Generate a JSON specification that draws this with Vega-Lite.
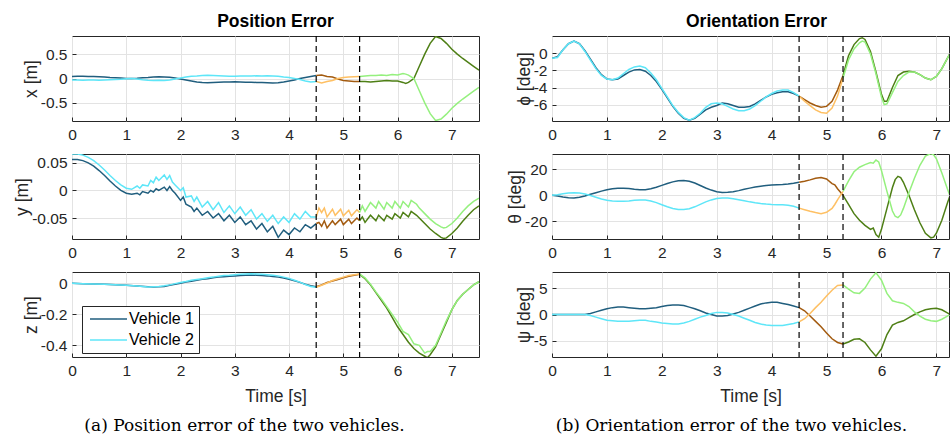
{
"$schema": "https://vega.github.io/schema/vega-lite/v6.json",
"padding": {"left": 13, "top": 12, "right": 0, "bottom": 0},
"background": "white",
"datasets": {
"vl": [{"t": 4.5}, {"t": 5.3}],
"px": [
{"t":0,"a":0.04,"b":-0.03},{"t":0.1,"a":0.045,"b":-0.03},{"t":0.2,"a":0.045,"b":-0.035},{"t":0.3,"a":0.04,"b":-0.03},{"t":0.4,"a":0.04,"b":-0.03},{"t":0.5,"a":0.035,"b":-0.035},{"t":0.6,"a":0.03,"b":-0.03},{"t":0.7,"a":0.02,"b":-0.025},{"t":0.8,"a":0.015,"b":-0.02},{"t":0.9,"a":0.01,"b":-0.015},{"t":1.0,"a":0.0,"b":-0.005},{"t":1.1,"a":0.0,"b":0.0},{"t":1.2,"a":0.005,"b":-0.01},{"t":1.3,"a":0.015,"b":-0.025},{"t":1.4,"a":0.02,"b":-0.035},{"t":1.5,"a":0.03,"b":-0.04},{"t":1.6,"a":0.035,"b":-0.035},{"t":1.7,"a":0.03,"b":-0.04},{"t":1.8,"a":0.025,"b":-0.03},{"t":1.9,"a":0.01,"b":-0.01},{"t":2.0,"a":-0.01,"b":0.01},{"t":2.1,"a":-0.03,"b":0.03},{"t":2.2,"a":-0.05,"b":0.045},{"t":2.3,"a":-0.07,"b":0.05},{"t":2.4,"a":-0.08,"b":0.06},{"t":2.5,"a":-0.085,"b":0.065},{"t":2.6,"a":-0.08,"b":0.06},{"t":2.7,"a":-0.075,"b":0.055},{"t":2.8,"a":-0.07,"b":0.05},{"t":2.9,"a":-0.07,"b":0.045},{"t":3.0,"a":-0.065,"b":0.045},{"t":3.1,"a":-0.07,"b":0.05},{"t":3.2,"a":-0.075,"b":0.05},{"t":3.3,"a":-0.075,"b":0.05},{"t":3.4,"a":-0.08,"b":0.055},{"t":3.5,"a":-0.08,"b":0.05},{"t":3.6,"a":-0.085,"b":0.055},{"t":3.7,"a":-0.09,"b":0.05},{"t":3.8,"a":-0.085,"b":0.045},{"t":3.9,"a":-0.07,"b":0.03},{"t":4.0,"a":-0.05,"b":0.02},{"t":4.1,"a":-0.03,"b":0.0},{"t":4.2,"a":0.0,"b":-0.02},{"t":4.3,"a":0.02,"b":-0.05},{"t":4.4,"a":0.04,"b":-0.07},
{"t":4.5,"a":0.06,"b":-0.06,"c":0.06,"d":-0.06},
{"t":4.6,"c":0.07,"d":-0.09},{"t":4.7,"c":0.04,"d":-0.06},{"t":4.8,"c":0.03,"d":-0.04},{"t":4.9,"c":-0.01,"d":0.0},{"t":5.0,"c":-0.04,"d":0.02},{"t":5.1,"c":-0.05,"d":0.03},{"t":5.2,"c":-0.06,"d":0.035},
{"t":5.3,"c":-0.06,"d":0.04,"e":-0.06,"f":0.04},
{"t":5.4,"e":-0.06,"f":0.05},{"t":5.5,"e":-0.07,"f":0.06},{"t":5.6,"e":-0.06,"f":0.06},{"t":5.7,"e":-0.05,"f":0.07},{"t":5.8,"e":-0.04,"f":0.06},{"t":5.9,"e":-0.05,"f":0.08},{"t":6.0,"e":-0.05,"f":0.07},{"t":6.1,"e":-0.08,"f":0.1},{"t":6.15,"e":-0.1,"f":0.09},{"t":6.2,"e":-0.08,"f":0.07},{"t":6.3,"e":0.0,"f":0.0},{"t":6.4,"e":0.25,"f":-0.25},{"t":6.5,"e":0.5,"f":-0.5},{"t":6.6,"e":0.72,"f":-0.72},{"t":6.7,"e":0.86,"f":-0.86},{"t":6.8,"e":0.82,"f":-0.83},{"t":6.9,"e":0.72,"f":-0.73},{"t":7.0,"e":0.6,"f":-0.61},{"t":7.1,"e":0.5,"f":-0.51},{"t":7.2,"e":0.41,"f":-0.42},{"t":7.3,"e":0.33,"f":-0.34},{"t":7.4,"e":0.25,"f":-0.26},{"t":7.5,"e":0.17,"f":-0.18}
],
"py": [
{"t":0,"a":0.056,"b":0.066},{"t":0.1,"a":0.056,"b":0.066},{"t":0.2,"a":0.054,"b":0.064},{"t":0.3,"a":0.05,"b":0.06},{"t":0.4,"a":0.044,"b":0.054},{"t":0.5,"a":0.036,"b":0.046},{"t":0.6,"a":0.027,"b":0.037},{"t":0.7,"a":0.017,"b":0.027},{"t":0.8,"a":0.008,"b":0.018},{"t":0.9,"a":0.0,"b":0.01},{"t":1.0,"a":-0.005,"b":0.004},{"t":1.1,"a":-0.007,"b":0.002},{"t":1.2,"a":-0.005,"b":0.008},{"t":1.25,"a":-0.008,"b":0.004},{"t":1.3,"a":-0.002,"b":0.01},{"t":1.4,"a":-0.005,"b":0.008},{"t":1.45,"a":0.0,"b":0.018},{"t":1.5,"a":-0.003,"b":0.014},{"t":1.55,"a":0.003,"b":0.024},{"t":1.6,"a":0.0,"b":0.018},{"t":1.7,"a":0.006,"b":0.028},{"t":1.75,"a":0.0,"b":0.02},{"t":1.8,"a":0.007,"b":0.027},{"t":1.85,"a":0.0,"b":0.015},{"t":1.9,"a":-0.005,"b":0.01},{"t":2.0,"a":-0.018,"b":0.0},{"t":2.05,"a":-0.012,"b":0.005},{"t":2.1,"a":-0.025,"b":-0.012},{"t":2.2,"a":-0.03,"b":-0.01},{"t":2.25,"a":-0.038,"b":-0.02},{"t":2.3,"a":-0.032,"b":-0.012},{"t":2.4,"a":-0.045,"b":-0.03},{"t":2.5,"a":-0.038,"b":-0.02},{"t":2.6,"a":-0.05,"b":-0.035},{"t":2.7,"a":-0.042,"b":-0.022},{"t":2.8,"a":-0.055,"b":-0.04},{"t":2.9,"a":-0.045,"b":-0.028},{"t":3.0,"a":-0.058,"b":-0.042},{"t":3.1,"a":-0.048,"b":-0.03},{"t":3.2,"a":-0.062,"b":-0.045},{"t":3.3,"a":-0.055,"b":-0.035},{"t":3.4,"a":-0.07,"b":-0.052},{"t":3.5,"a":-0.06,"b":-0.042},{"t":3.6,"a":-0.075,"b":-0.056},{"t":3.7,"a":-0.065,"b":-0.045},{"t":3.8,"a":-0.085,"b":-0.06},{"t":3.9,"a":-0.072,"b":-0.048},{"t":4.0,"a":-0.08,"b":-0.058},{"t":4.1,"a":-0.068,"b":-0.042},{"t":4.2,"a":-0.075,"b":-0.052},{"t":4.3,"a":-0.062,"b":-0.038},{"t":4.4,"a":-0.068,"b":-0.048},
{"t":4.5,"a":-0.06,"b":-0.048,"c":-0.06,"d":-0.048},
{"t":4.55,"c":-0.058,"d":-0.032},{"t":4.6,"c":-0.065,"d":-0.04},{"t":4.65,"c":-0.055,"d":-0.032},{"t":4.7,"c":-0.068,"d":-0.048},{"t":4.8,"c":-0.055,"d":-0.034},{"t":4.85,"c":-0.062,"d":-0.045},{"t":4.95,"c":-0.052,"d":-0.034},{"t":5.0,"c":-0.062,"d":-0.046},{"t":5.1,"c":-0.052,"d":-0.036},{"t":5.15,"c":-0.06,"d":-0.046},{"t":5.25,"c":-0.05,"d":-0.035},
{"t":5.3,"c":-0.055,"d":-0.04,"e":-0.055,"f":-0.04},
{"t":5.35,"e":-0.048,"f":-0.028},{"t":5.4,"e":-0.058,"f":-0.038},{"t":5.5,"e":-0.045,"f":-0.022},{"t":5.6,"e":-0.055,"f":-0.032},{"t":5.65,"e":-0.045,"f":-0.02},{"t":5.75,"e":-0.055,"f":-0.034},{"t":5.8,"e":-0.045,"f":-0.022},{"t":5.9,"e":-0.052,"f":-0.032},{"t":5.95,"e":-0.042,"f":-0.02},{"t":6.05,"e":-0.05,"f":-0.032},{"t":6.1,"e":-0.04,"f":-0.02},{"t":6.2,"e":-0.048,"f":-0.03},{"t":6.25,"e":-0.038,"f":-0.018},{"t":6.35,"e":-0.045,"f":-0.025},{"t":6.4,"e":-0.05,"f":-0.032},{"t":6.5,"e":-0.06,"f":-0.042},{"t":6.6,"e":-0.07,"f":-0.052},{"t":6.7,"e":-0.078,"f":-0.06},{"t":6.8,"e":-0.085,"f":-0.066},{"t":6.85,"e":-0.087,"f":-0.068},{"t":6.9,"e":-0.086,"f":-0.067},{"t":7.0,"e":-0.078,"f":-0.06},{"t":7.1,"e":-0.068,"f":-0.05},{"t":7.2,"e":-0.056,"f":-0.038},{"t":7.3,"e":-0.045,"f":-0.028},{"t":7.4,"e":-0.035,"f":-0.02},{"t":7.5,"e":-0.028,"f":-0.014}
],
"pz": [
{"t":0,"a":0.0,"b":0.0},{"t":0.2,"a":-0.002,"b":-0.002},{"t":0.4,"a":-0.004,"b":-0.004},{"t":0.6,"a":-0.006,"b":-0.006},{"t":0.8,"a":-0.009,"b":-0.009},{"t":1.0,"a":-0.012,"b":-0.012},{"t":1.2,"a":-0.017,"b":-0.017},{"t":1.4,"a":-0.022,"b":-0.024},{"t":1.5,"a":-0.024,"b":-0.022},{"t":1.6,"a":-0.022,"b":-0.02},{"t":1.7,"a":-0.02,"b":-0.016},{"t":1.8,"a":-0.012,"b":-0.01},{"t":1.9,"a":-0.006,"b":-0.002},{"t":2.0,"a":0.0,"b":0.005},{"t":2.1,"a":0.008,"b":0.012},{"t":2.2,"a":0.014,"b":0.02},{"t":2.3,"a":0.02,"b":0.025},{"t":2.4,"a":0.026,"b":0.03},{"t":2.5,"a":0.03,"b":0.036},{"t":2.6,"a":0.036,"b":0.04},{"t":2.7,"a":0.04,"b":0.046},{"t":2.8,"a":0.043,"b":0.05},{"t":2.9,"a":0.046,"b":0.052},{"t":3.0,"a":0.048,"b":0.055},{"t":3.1,"a":0.05,"b":0.058},{"t":3.2,"a":0.052,"b":0.06},{"t":3.3,"a":0.054,"b":0.062},{"t":3.4,"a":0.052,"b":0.06},{"t":3.5,"a":0.05,"b":0.058},{"t":3.6,"a":0.048,"b":0.056},{"t":3.7,"a":0.044,"b":0.052},{"t":3.8,"a":0.04,"b":0.048},{"t":3.9,"a":0.034,"b":0.04},{"t":4.0,"a":0.026,"b":0.032},{"t":4.1,"a":0.016,"b":0.02},{"t":4.2,"a":0.006,"b":0.008},{"t":4.3,"a":-0.006,"b":-0.008},{"t":4.4,"a":-0.016,"b":-0.02},
{"t":4.5,"a":-0.022,"b":-0.025,"c":-0.022,"d":-0.025},
{"t":4.6,"c":-0.01,"d":-0.012},{"t":4.7,"c":0.005,"d":0.002},{"t":4.8,"c":0.015,"d":0.018},{"t":4.9,"c":0.025,"d":0.03},{"t":5.0,"c":0.035,"d":0.04},{"t":5.1,"c":0.045,"d":0.05},{"t":5.2,"c":0.052,"d":0.056},
{"t":5.3,"c":0.058,"d":0.06,"e":0.058,"f":0.06},
{"t":5.4,"e":0.03,"f":0.035},{"t":5.5,"e":-0.01,"f":-0.005},{"t":5.6,"e":-0.06,"f":-0.055},{"t":5.7,"e":-0.11,"f":-0.1},{"t":5.8,"e":-0.16,"f":-0.15},{"t":5.9,"e":-0.22,"f":-0.2},{"t":6.0,"e":-0.28,"f":-0.25},{"t":6.1,"e":-0.33,"f":-0.31},{"t":6.2,"e":-0.38,"f":-0.33},{"t":6.3,"e":-0.42,"f":-0.39},{"t":6.4,"e":-0.45,"f":-0.4},{"t":6.5,"e":-0.47,"f":-0.45},{"t":6.55,"e":-0.48,"f":-0.44},{"t":6.6,"e":-0.46,"f":-0.44},{"t":6.7,"e":-0.41,"f":-0.4},{"t":6.8,"e":-0.33,"f":-0.32},{"t":6.9,"e":-0.25,"f":-0.24},{"t":7.0,"e":-0.17,"f":-0.17},{"t":7.1,"e":-0.11,"f":-0.11},{"t":7.2,"e":-0.07,"f":-0.07},{"t":7.3,"e":-0.04,"f":-0.04},{"t":7.4,"e":-0.01,"f":-0.01},{"t":7.5,"e":0.01,"f":0.01}
],
"pphi": [
{"t":0,"a":-0.6,"b":-0.6},{"t":0.1,"a":-0.4,"b":-0.5},{"t":0.2,"a":0.4,"b":0.4},{"t":0.3,"a":1.1,"b":1.1},{"t":0.4,"a":1.4,"b":1.4},{"t":0.5,"a":1.1,"b":1.1},{"t":0.6,"a":0.3,"b":0.2},{"t":0.7,"a":-0.7,"b":-0.8},{"t":0.8,"a":-1.7,"b":-1.8},{"t":0.9,"a":-2.5,"b":-2.6},{"t":1.0,"a":-3.0,"b":-3.0},{"t":1.1,"a":-3.1,"b":-3.1},{"t":1.2,"a":-3.0,"b":-2.9},{"t":1.3,"a":-2.6,"b":-2.4},{"t":1.4,"a":-2.2,"b":-1.9},{"t":1.5,"a":-1.95,"b":-1.6},{"t":1.6,"a":-1.9,"b":-1.5},{"t":1.7,"a":-2.1,"b":-1.7},{"t":1.8,"a":-2.6,"b":-2.3},{"t":1.9,"a":-3.3,"b":-3.1},{"t":2.0,"a":-4.2,"b":-4.1},{"t":2.1,"a":-5.2,"b":-5.1},{"t":2.2,"a":-6.2,"b":-6.1},{"t":2.3,"a":-7.0,"b":-6.9},{"t":2.4,"a":-7.6,"b":-7.5},{"t":2.5,"a":-7.8,"b":-7.8},{"t":2.6,"a":-7.6,"b":-7.5},{"t":2.7,"a":-7.1,"b":-7.0},{"t":2.8,"a":-6.6,"b":-6.3},{"t":2.9,"a":-6.3,"b":-5.9},{"t":3.0,"a":-6.1,"b":-5.8},{"t":3.1,"a":-5.8,"b":-5.9},{"t":3.2,"a":-5.9,"b":-6.2},{"t":3.3,"a":-6.1,"b":-6.5},{"t":3.4,"a":-6.3,"b":-6.7},{"t":3.5,"a":-6.3,"b":-6.7},{"t":3.6,"a":-6.2,"b":-6.5},{"t":3.7,"a":-5.9,"b":-6.1},{"t":3.8,"a":-5.5,"b":-5.6},{"t":3.9,"a":-5.1,"b":-5.1},{"t":4.0,"a":-4.8,"b":-4.7},{"t":4.1,"a":-4.6,"b":-4.4},{"t":4.2,"a":-4.5,"b":-4.3},{"t":4.3,"a":-4.5,"b":-4.3},{"t":4.4,"a":-4.7,"b":-4.6},
{"t":4.5,"a":-5.0,"b":-5.0,"c":-5.0,"d":-5.0},
{"t":4.6,"c":-5.4,"d":-5.6},{"t":4.7,"c":-5.8,"d":-6.1},{"t":4.8,"c":-6.1,"d":-6.6},{"t":4.9,"c":-6.3,"d":-6.9},{"t":5.0,"c":-6.2,"d":-7.0},{"t":5.1,"c":-5.6,"d":-6.4},{"t":5.2,"c":-4.3,"d":-5.0},
{"t":5.3,"c":-2.6,"d":-2.9,"e":-2.6,"f":-2.9},
{"t":5.4,"e":-0.3,"f":-0.8},{"t":5.5,"e":1.0,"f":0.5},{"t":5.6,"e":1.7,"f":1.2},{"t":5.65,"e":1.8,"f":1.4},{"t":5.7,"e":1.6,"f":1.3},{"t":5.8,"e":0.2,"f":-0.1},{"t":5.9,"e":-2.2,"f":-2.4},{"t":6.0,"e":-4.8,"f":-5.1},{"t":6.05,"e":-5.6,"f":-6.0},{"t":6.1,"e":-5.6,"f":-5.9},{"t":6.2,"e":-4.0,"f":-4.6},{"t":6.3,"e":-2.6,"f":-3.3},{"t":6.4,"e":-2.2,"f":-2.6},{"t":6.5,"e":-2.1,"f":-2.2},{"t":6.6,"e":-2.2,"f":-2.2},{"t":6.7,"e":-2.5,"f":-2.5},{"t":6.8,"e":-2.9,"f":-2.9},{"t":6.9,"e":-3.1,"f":-3.1},{"t":7.0,"e":-2.7,"f":-2.7},{"t":7.1,"e":-1.8,"f":-1.8},{"t":7.2,"e":-0.6,"f":-0.6},{"t":7.3,"e":0.6,"f":0.6}
],
"ptheta": [
{"t":0,"a":0,"b":0},{"t":0.1,"a":-0.5,"b":0.5},{"t":0.2,"a":-1.2,"b":1.2},{"t":0.3,"a":-1.8,"b":1.8},{"t":0.4,"a":-2.0,"b":2.0},{"t":0.5,"a":-1.5,"b":1.8},{"t":0.6,"a":-0.5,"b":1.0},{"t":0.7,"a":0.8,"b":-0.2},{"t":0.8,"a":2.0,"b":-1.5},{"t":0.9,"a":3.2,"b":-2.8},{"t":1.0,"a":4.3,"b":-3.8},{"t":1.1,"a":5.0,"b":-4.4},{"t":1.2,"a":5.4,"b":-4.6},{"t":1.3,"a":5.5,"b":-4.6},{"t":1.4,"a":5.2,"b":-4.3},{"t":1.5,"a":4.6,"b":-3.8},{"t":1.6,"a":4.2,"b":-3.5},{"t":1.7,"a":4.3,"b":-3.6},{"t":1.8,"a":5.0,"b":-4.3},{"t":1.9,"a":6.2,"b":-5.6},{"t":2.0,"a":7.6,"b":-7.2},{"t":2.1,"a":9.0,"b":-8.7},{"t":2.2,"a":10.3,"b":-10.0},{"t":2.3,"a":11.2,"b":-10.8},{"t":2.4,"a":11.4,"b":-10.9},{"t":2.5,"a":10.8,"b":-10.2},{"t":2.6,"a":9.4,"b":-8.8},{"t":2.7,"a":7.5,"b":-6.9},{"t":2.8,"a":5.6,"b":-5.0},{"t":2.9,"a":4.0,"b":-3.5},{"t":3.0,"a":2.8,"b":-2.5},{"t":3.1,"a":2.2,"b":-2.0},{"t":3.2,"a":2.3,"b":-2.1},{"t":3.3,"a":2.8,"b":-2.6},{"t":3.4,"a":3.6,"b":-3.4},{"t":3.5,"a":4.6,"b":-4.2},{"t":3.6,"a":5.5,"b":-5.0},{"t":3.7,"a":6.3,"b":-5.7},{"t":3.8,"a":7.0,"b":-6.3},{"t":3.9,"a":7.5,"b":-6.7},{"t":4.0,"a":7.8,"b":-7.0},{"t":4.1,"a":8.0,"b":-7.2},{"t":4.2,"a":8.2,"b":-7.3},{"t":4.3,"a":8.6,"b":-7.6},{"t":4.4,"a":9.2,"b":-8.4},
{"t":4.5,"a":10.0,"b":-9.8,"c":10.0,"d":-9.8},
{"t":4.6,"c":10.8,"d":-11.0},{"t":4.7,"c":11.8,"d":-12.2},{"t":4.8,"c":13.0,"d":-13.2},{"t":4.9,"c":13.6,"d":-14.0},{"t":5.0,"c":12.5,"d":-13.0},{"t":5.1,"c":9.0,"d":-10.0},{"t":5.15,"c":8.0,"d":-7.0},{"t":5.2,"c":5.0,"d":-3.5},
{"t":5.3,"c":0.0,"d":3.0,"e":0.0,"f":3.0},
{"t":5.4,"e":-7,"f":11},{"t":5.5,"e":-14,"f":18},{"t":5.6,"e":-19,"f":21.5},{"t":5.7,"e":-23,"f":23.5},{"t":5.8,"e":-26,"f":25},{"t":5.85,"e":-25,"f":24.5},{"t":5.9,"e":-30,"f":27},{"t":5.95,"e":-32,"f":25.5},{"t":6.0,"e":-26,"f":19},{"t":6.1,"e":-10,"f":3},{"t":6.2,"e":6,"f":-12},{"t":6.25,"e":12,"f":-16},{"t":6.3,"e":14.5,"f":-17},{"t":6.35,"e":13.5,"f":-15},{"t":6.4,"e":10,"f":-10},{"t":6.5,"e":0,"f":2},{"t":6.6,"e":-11,"f":13},{"t":6.7,"e":-21,"f":23},{"t":6.8,"e":-29,"f":30},{"t":6.9,"e":-32.5,"f":32},{"t":6.95,"e":-32,"f":31},{"t":7.0,"e":-29,"f":28},{"t":7.1,"e":-19,"f":17},{"t":7.2,"e":-6,"f":5},{"t":7.3,"e":6,"f":-6}
],
"ppsi": [
{"t":0,"a":0,"b":0},{"t":0.3,"a":0,"b":0},{"t":0.6,"a":0,"b":0},{"t":0.7,"a":0.2,"b":-0.2},{"t":0.8,"a":0.5,"b":-0.5},{"t":0.9,"a":0.8,"b":-0.8},{"t":1.0,"a":1.1,"b":-1.1},{"t":1.1,"a":1.3,"b":-1.2},{"t":1.2,"a":1.4,"b":-1.3},{"t":1.3,"a":1.4,"b":-1.3},{"t":1.4,"a":1.3,"b":-1.3},{"t":1.5,"a":1.2,"b":-1.2},{"t":1.6,"a":1.1,"b":-1.1},{"t":1.7,"a":1.1,"b":-1.1},{"t":1.8,"a":1.2,"b":-1.3},{"t":1.9,"a":1.3,"b":-1.4},{"t":2.0,"a":1.5,"b":-1.6},{"t":2.1,"a":1.7,"b":-1.7},{"t":2.2,"a":1.8,"b":-1.8},{"t":2.3,"a":1.8,"b":-1.8},{"t":2.4,"a":1.7,"b":-1.6},{"t":2.5,"a":1.4,"b":-1.3},{"t":2.6,"a":1.1,"b":-0.9},{"t":2.7,"a":0.7,"b":-0.5},{"t":2.8,"a":0.3,"b":-0.2},{"t":2.9,"a":0.0,"b":0.2},{"t":3.0,"a":-0.3,"b":0.4},{"t":3.1,"a":-0.3,"b":0.4},{"t":3.2,"a":-0.2,"b":0.3},{"t":3.3,"a":0.1,"b":0.0},{"t":3.4,"a":0.4,"b":-0.3},{"t":3.5,"a":0.8,"b":-0.7},{"t":3.6,"a":1.2,"b":-1.1},{"t":3.7,"a":1.6,"b":-1.5},{"t":3.8,"a":2.0,"b":-1.8},{"t":3.9,"a":2.2,"b":-2.0},{"t":4.0,"a":2.3,"b":-2.1},{"t":4.1,"a":2.3,"b":-2.1},{"t":4.2,"a":2.1,"b":-2.1},{"t":4.3,"a":1.9,"b":-1.9},{"t":4.4,"a":1.6,"b":-1.7},
{"t":4.5,"a":1.3,"b":-1.4,"c":1.3,"d":-1.4},
{"t":4.6,"c":0.7,"d":-0.8},{"t":4.7,"c":-0.3,"d":0.2},{"t":4.8,"c":-1.3,"d":1.3},{"t":4.9,"c":-2.3,"d":2.3},{"t":5.0,"c":-3.5,"d":3.5},{"t":5.1,"c":-4.6,"d":4.6},{"t":5.2,"c":-5.3,"d":5.5},
{"t":5.3,"c":-5.6,"d":5.6,"e":-5.6,"f":5.6},
{"t":5.4,"e":-5.2,"f":4.8},{"t":5.5,"e":-4.7,"f":4.1},{"t":5.6,"e":-4.6,"f":4.0},{"t":5.7,"e":-5.3,"f":5.0},{"t":5.8,"e":-6.7,"f":6.7},{"t":5.9,"e":-7.9,"f":7.9},{"t":6.0,"e":-6.5,"f":6.5},{"t":6.1,"e":-3.8,"f":4.0},{"t":6.2,"e":-2.0,"f":2.6},{"t":6.3,"e":-1.5,"f":2.3},{"t":6.4,"e":-1.2,"f":2.1},{"t":6.5,"e":-0.6,"f":1.5},{"t":6.6,"e":0.0,"f":0.5},{"t":6.7,"e":0.5,"f":-0.3},{"t":6.8,"e":0.9,"f":-0.9},{"t":6.9,"e":1.1,"f":-1.2},{"t":7.0,"e":1.2,"f":-1.3},{"t":7.1,"e":0.9,"f":-0.9},{"t":7.2,"e":0.3,"f":-0.3},{"t":7.3,"e":-0.3,"f":0.3}
]
},
"config": {
"view": {"stroke": "#262626", "strokeWidth": 1},
"axis": {"domain": false, "grid": true, "gridColor": "#e3e3e3", "ticks": true, "tickSize": -4, "tickColor": "#262626", "labelFont": "Liberation Sans", "labelFontSize": 15.5, "labelColor": "#262626", "labelFlush": false, "titleFont": "Liberation Sans", "titleFontSize": 17.5, "titleFontWeight": "normal", "titleColor": "#262626"},
"axisX": {"labelPadding": 10},
"axisY": {"labelPadding": 9, "titlePadding": 0},
"line": {"strokeWidth": 1.5}
},
"resolve": {"legend": {"color": "independent"}},
"columns": 2,
"spacing": {"row": 33, "column": 73},
"bounds": "flush",
"concat": [
{
"width": 407, "height": 85,
"title": {"text": "Position Error", "font": "Liberation Sans", "fontSize": 17.5, "fontWeight": "bold", "color": "#000000", "offset": 5, "anchor": "middle"},
"layer": [
{"data": {"name": "px"}, "transform": [{"fold": ["a","b","c","d","e","f"], "as": ["s","v"]}, {"filter": "isValid(datum.v)"}],
"mark": {"type": "line", "clip": true},
"encoding": {
"x": {"field": "t", "type": "quantitative", "scale": {"domain": [0, 7.5], "nice": false}, "axis": {"values": [0,1,2,3,4,5,6,7], "title": null, "labelExpr": "'' + datum.value"}},
"y": {"field": "v", "type": "quantitative", "scale": {"domain": [-0.87, 0.87], "nice": false}, "axis": {"values": [-0.5, 0, 0.5], "title": "x [m]", "labelExpr": "'' + datum.value"}},
"color": {"field": "s", "type": "nominal", "scale": {"domain": ["a","b","c","d","e","f"], "range": ["#205e7e","#5ee6f8","#a35b10","#fec064","#4e7f15","#95f07e"]}, "legend": null}
}},
{"data": {"name": "vl"}, "mark": {"type": "rule", "color": "#000000", "strokeWidth": 1.2, "strokeDash": [6, 4]}, "encoding": {"x": {"field": "t", "type": "quantitative"}}}
]
},
{
"width": 397, "height": 85,
"title": {"text": "Orientation Error", "font": "Liberation Sans", "fontSize": 17.5, "fontWeight": "bold", "color": "#000000", "offset": 5, "anchor": "middle", "dx": 6},
"layer": [
{"data": {"name": "pphi"}, "transform": [{"fold": ["a","b","c","d","e","f"], "as": ["s","v"]}, {"filter": "isValid(datum.v)"}],
"mark": {"type": "line", "clip": true},
"encoding": {
"x": {"field": "t", "type": "quantitative", "scale": {"domain": [0, 7.23], "nice": false}, "axis": {"values": [0,1,2,3,4,5,6,7], "title": null, "labelExpr": "'' + datum.value"}},
"y": {"field": "v", "type": "quantitative", "scale": {"domain": [-7.9, 2.0], "nice": false}, "axis": {"values": [-6, -4, -2, 0], "title": "ϕ [deg]", "labelExpr": "'' + datum.value"}},
"color": {"field": "s", "type": "nominal", "scale": {"domain": ["a","b","c","d","e","f"], "range": ["#205e7e","#5ee6f8","#a35b10","#fec064","#4e7f15","#95f07e"]}, "legend": null}
}},
{"data": {"name": "vl"}, "mark": {"type": "rule", "color": "#000000", "strokeWidth": 1.2, "strokeDash": [6, 4]}, "encoding": {"x": {"field": "t", "type": "quantitative"}}}
]
},
{
"width": 407, "height": 85,
"layer": [
{"data": {"name": "py"}, "transform": [{"fold": ["a","b","c","d","e","f"], "as": ["s","v"]}, {"filter": "isValid(datum.v)"}],
"mark": {"type": "line", "clip": true},
"encoding": {
"x": {"field": "t", "type": "quantitative", "scale": {"domain": [0, 7.5], "nice": false}, "axis": {"values": [0,1,2,3,4,5,6,7], "title": null, "labelExpr": "'' + datum.value"}},
"y": {"field": "v", "type": "quantitative", "scale": {"domain": [-0.088, 0.066], "nice": false}, "axis": {"values": [-0.05, 0, 0.05], "title": "y [m]", "labelExpr": "'' + datum.value"}},
"color": {"field": "s", "type": "nominal", "scale": {"domain": ["a","b","c","d","e","f"], "range": ["#205e7e","#5ee6f8","#a35b10","#fec064","#4e7f15","#95f07e"]}, "legend": null}
}},
{"data": {"name": "vl"}, "mark": {"type": "rule", "color": "#000000", "strokeWidth": 1.2, "strokeDash": [6, 4]}, "encoding": {"x": {"field": "t", "type": "quantitative"}}}
]
},
{
"width": 397, "height": 85,
"layer": [
{"data": {"name": "ptheta"}, "transform": [{"fold": ["a","b","c","d","e","f"], "as": ["s","v"]}, {"filter": "isValid(datum.v)"}],
"mark": {"type": "line", "clip": true},
"encoding": {
"x": {"field": "t", "type": "quantitative", "scale": {"domain": [0, 7.23], "nice": false}, "axis": {"values": [0,1,2,3,4,5,6,7], "title": null, "labelExpr": "'' + datum.value"}},
"y": {"field": "v", "type": "quantitative", "scale": {"domain": [-33.4, 31.6], "nice": false}, "axis": {"values": [-20, 0, 20], "title": "θ [deg]", "labelExpr": "'' + datum.value"}},
"color": {"field": "s", "type": "nominal", "scale": {"domain": ["a","b","c","d","e","f"], "range": ["#205e7e","#5ee6f8","#a35b10","#fec064","#4e7f15","#95f07e"]}, "legend": null}
}},
{"data": {"name": "vl"}, "mark": {"type": "rule", "color": "#000000", "strokeWidth": 1.2, "strokeDash": [6, 4]}, "encoding": {"x": {"field": "t", "type": "quantitative"}}}
]
},
{
"width": 407, "height": 85,
"title": {"text": "(a) Position error of the two vehicles.", "orient": "bottom", "font": "DejaVu Serif", "fontSize": 17, "fontWeight": "normal", "color": "#000000", "offset": 13, "anchor": "middle", "dx": -31},
"layer": [
{"data": {"name": "pz"}, "transform": [{"fold": ["a","b","c","d","e","f"], "as": ["s","v"]}, {"filter": "isValid(datum.v)"}],
"mark": {"type": "line", "clip": true},
"encoding": {
"x": {"field": "t", "type": "quantitative", "scale": {"domain": [0, 7.5], "nice": false}, "axis": {"values": [0,1,2,3,4,5,6,7], "title": "Time [s]", "titlePadding": 9, "labelExpr": "'' + datum.value"}},
"y": {"field": "v", "type": "quantitative", "scale": {"domain": [-0.475, 0.073], "nice": false}, "axis": {"values": [-0.4, -0.2, 0], "title": "z [m]", "labelExpr": "'' + datum.value"}},
"color": {"field": "s", "type": "nominal", "scale": {"domain": ["a","b","c","d","e","f"], "range": ["#205e7e","#5ee6f8","#a35b10","#fec064","#4e7f15","#95f07e"]},
"legend": {"orient": "none", "legendX": 10, "legendY": 34, "title": null, "values": ["a","b"], "labelExpr": "datum.label == 'a' ? 'Vehicle 1' : 'Vehicle 2'", "symbolType": "M-1,0H6.4", "symbolSize": 100, "symbolStrokeWidth": 2, "labelFont": "Liberation Sans", "labelFontSize": 16, "labelColor": "#000000", "labelOffset": 26, "fillColor": "#ffffff", "strokeColor": "#262626", "padding": 5, "rowPadding": 5, "cornerRadius": 0}}
}},
{"data": {"name": "vl"}, "mark": {"type": "rule", "color": "#000000", "strokeWidth": 1.2, "strokeDash": [6, 4]}, "encoding": {"x": {"field": "t", "type": "quantitative"}}}
]
},
{
"width": 397, "height": 85,
"title": {"text": "(b) Orientation error of the two vehicles.", "orient": "bottom", "font": "DejaVu Serif", "fontSize": 17, "fontWeight": "normal", "color": "#000000", "offset": 13, "anchor": "middle", "dx": -19},
"layer": [
{"data": {"name": "ppsi"}, "transform": [{"fold": ["a","b","c","d","e","f"], "as": ["s","v"]}, {"filter": "isValid(datum.v)"}],
"mark": {"type": "line", "clip": true},
"encoding": {
"x": {"field": "t", "type": "quantitative", "scale": {"domain": [0, 7.23], "nice": false}, "axis": {"values": [0,1,2,3,4,5,6,7], "title": "Time [s]", "titlePadding": 9, "labelExpr": "'' + datum.value"}},
"y": {"field": "v", "type": "quantitative", "scale": {"domain": [-8.05, 8.05], "nice": false}, "axis": {"values": [-5, 0, 5], "title": "ψ [deg]", "labelExpr": "'' + datum.value"}},
"color": {"field": "s", "type": "nominal", "scale": {"domain": ["a","b","c","d","e","f"], "range": ["#205e7e","#5ee6f8","#a35b10","#fec064","#4e7f15","#95f07e"]}, "legend": null}
}},
{"data": {"name": "vl"}, "mark": {"type": "rule", "color": "#000000", "strokeWidth": 1.2, "strokeDash": [6, 4]}, "encoding": {"x": {"field": "t", "type": "quantitative"}}}
]
}
]
}
